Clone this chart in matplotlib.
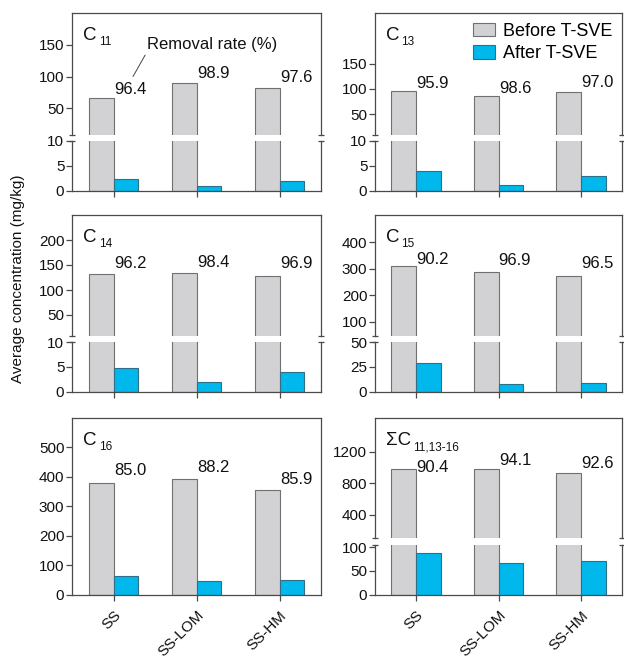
# removal of n-alkanes before / after T-SVE, broken-axis bar panels

import numpy as np
import matplotlib.pyplot as plt

plt.rcParams['font.family'] = ['Liberation Sans', 'DejaVu Sans']

# data (mg/kg)
sites = ['SS', 'SS-LOM', 'SS-HM']

c11_before = [66, 90, 82]
c11_after = [2.4, 1.0, 2.0]
c11_rate = [96.4, 98.9, 97.6]

c13_before = [95, 87, 93]
c13_after = [4.0, 1.2, 2.9]
c13_rate = [95.9, 98.6, 97.0]

c14_before = [132, 134, 128]
c14_after = [4.8, 2.0, 3.9]
c14_rate = [96.2, 98.4, 96.9]

c15_before = [311, 289, 275]
c15_after = [29.5, 8.4, 9.4]
c15_rate = [90.2, 96.9, 96.5]

c16_before = [379, 391, 355]
c16_after = [64, 45, 50]
c16_rate = [85.0, 88.2, 85.9]

sum_before = [975, 983, 924]
sum_after = [87, 66, 71]
sum_rate = [90.4, 94.1, 92.6]

GRAY = '#d2d2d4'
GRAY_EDGE = '#707070'
BLUE = '#00b8ec'
BLUE_EDGE = '#2f6f88'
SPINE = '#4a4a4a'
TXT = '#111111'

W, H = 624, 662
fig = plt.figure(figsize=(W / 100, H / 100), dpi=100)


def px_axes(left, top, right, bottom):
    return fig.add_axes([left / W, 1 - bottom / H, (right - left) / W, (bottom - top) / H])


def style(ax):
    for s in ax.spines.values():
        s.set_color(SPINE)
        s.set_linewidth(0.9)
    ax.tick_params(axis='y', direction='out', length=4, width=0.9, color=SPINE,
                   pad=1.5, labelsize=11, labelcolor=TXT)
    ax.tick_params(axis='x', direction='out', length=4, width=0.9, color=SPINE,
                   labelsize=11, labelcolor=TXT)
    ax.set_xlim(-0.5, 2.5)


def draw_bars(ax, before, after):
    x = np.arange(len(sites))
    b1 = ax.bar(x - 0.15, before, 0.3, color=GRAY, edgecolor=GRAY_EDGE, linewidth=0.8)
    b2 = ax.bar(x + 0.15, after, 0.3, color=BLUE, edgecolor=BLUE_EDGE, linewidth=0.8)
    return b1, b2


def rate_labels(ax, before, rates, offs):
    for i, (b, r, o) in enumerate(zip(before, rates, offs)):
        ax.annotate(f'{r:.1f}', xy=(i + 0.2, b), xytext=(0, o), textcoords='offset pixels',
                    ha='center', va='center', fontsize=12, color=TXT)


def panel_title(ax, main, sub, height_px):
    t = ax.text(11 / 248, 1 - 27 / height_px, main, transform=ax.transAxes, fontsize=13.5,
                ha='left', va='baseline', color=TXT)
    ax.annotate(sub, xy=(1, 0), xycoords=t, xytext=(1.5, -1), textcoords='offset points',
                ha='left', va='baseline', fontsize=8.5, color=TXT)


def caps(ax, where):
    # little horizontal caps at the broken spine ends
    ax.plot([0, 1], [where, where], transform=ax.transAxes, ls='none', marker='_',
            ms=5, mew=0.9, color=SPINE, clip_on=False)


def site_labels(ax):
    ax.set_xticks(range(len(sites)))
    ax.set_xticklabels(sites, rotation=45, ha='right', va='top', rotation_mode='anchor')
    ax.tick_params(axis='x', pad=6)


def broken_panel(left, right, top, mid_top, mid_bot, bottom, before, after, rates, offs,
                 main, sub, up_lim, up_ticks, lo_lim, lo_ticks, last_row=False):
    ax_u = px_axes(left, top, right, mid_top)
    ax_l = px_axes(left, mid_bot, right, bottom)
    bars = None
    for ax in (ax_u, ax_l):
        style(ax)
        bars = draw_bars(ax, before, after)
    ax_u.set_ylim(*up_lim)
    ax_u.set_yticks(up_ticks)
    ax_u.spines['bottom'].set_visible(False)
    ax_u.set_xticks([])
    ax_l.set_ylim(*lo_lim)
    ax_l.set_yticks(lo_ticks)
    ax_l.spines['top'].set_visible(False)
    if last_row:
        site_labels(ax_l)
    else:
        ax_l.set_xticks(range(len(sites)))
        ax_l.set_xticklabels([])
    caps(ax_u, 0)
    caps(ax_l, 1)
    rate_labels(ax_u, before, rates, offs)
    panel_title(ax_u, main, sub, mid_top - top)
    return ax_u, ax_l, bars


L1, R1 = 72, 321
L2, R2 = 375, 622

# row 1
ax11, _, _ = broken_panel(L1, R1, 13, 135, 140.7, 190.5, c11_before, c11_after, c11_rate,
                          [9, 9, 10], 'C', '11', (8, 200), [50, 100, 150], (0, 10), [0, 5, 10])
ax13, _, bars = broken_panel(L2, R2, 13, 135, 140.7, 190.5, c13_before, c13_after, c13_rate,
                             [7.5, 7.5, 10], 'C', '13', (9, 250), [50, 100, 150],
                             (0, 10), [0, 5, 10])

# row 2
broken_panel(L1, R1, 215, 336, 342, 392, c14_before, c14_after, c14_rate, [10.5, 10.5, 12.5],
             'C', '14', (8, 250), [50, 100, 150, 200], (0, 10), [0, 5, 10])
broken_panel(L2, R2, 215, 336, 342, 392, c15_before, c15_after, c15_rate, [6.5, 11, 12],
             'C', '15', (47, 503), [100, 200, 300, 400], (0, 50), [0, 25, 50])

# row 3, C16 has a single axis
ax16 = px_axes(L1, 418, R1, 594.5)
style(ax16)
draw_bars(ax16, c16_before, c16_after)
ax16.set_ylim(0, 600)
ax16.set_yticks([0, 100, 200, 300, 400, 500])
site_labels(ax16)
rate_labels(ax16, c16_before, c16_rate, [12.5, 12, 11])
panel_title(ax16, 'C', '16', 594.5 - 418)

broken_panel(L2, R2, 418, 538.3, 545, 594.5, sum_before, sum_after, sum_rate, [1.5, 8, 10],
             '\u03a3C', '11,13-16', (97, 1630), [400, 800, 1200], (0, 105), [0, 50, 100],
             last_row=True)

# legend and annotation
ax13.legend(bars, ['Before T-SVE', 'After T-SVE'], loc='upper right', frameon=False,
            fontsize=13, handlelength=1.2, handleheight=0.75, handletextpad=0.45,
            labelspacing=0.3, borderaxespad=0.15, bbox_to_anchor=(1.0, 1.0))

ax11.annotate('Removal rate (%)', xy=(0.235, 100), xytext=(0.40, 150),
              ha='left', va='center', fontsize=12, color=TXT,
              arrowprops=dict(arrowstyle='-', lw=0.7, color='#444444',
                              shrinkA=0, shrinkB=0, relpos=(0, 0)))

fig.text(18 / W, 1 - 279 / H, 'Average concentration (mg/kg)', rotation=90,
         ha='center', va='center', fontsize=11, color=TXT)

fig.savefig('out.png', dpi=100)
